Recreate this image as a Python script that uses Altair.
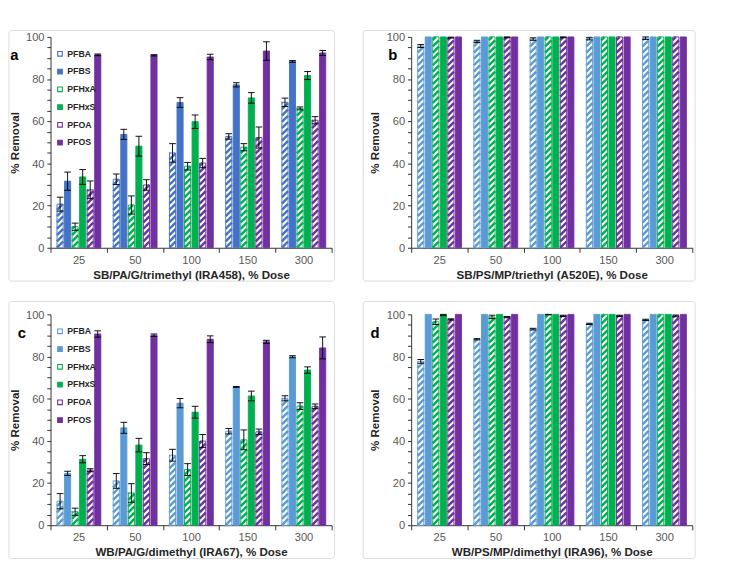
import altair as alt
import pandas as pd

# ---------------- data ----------------
series = ["PFBA", "PFBS", "PFHxA", "PFHxS", "PFOA", "PFOS"]
hatched = ["PFBA", "PFHxA", "PFOA"]
doses = ["25", "50", "100", "150", "300"]

# panel a: SB/PA/G/trimethyl (IRA458)
a_val = {
    "PFBA": [20.7, 32.5, 45.0, 52.8, 69.0],
    "PFBS": [31.6, 53.8, 68.9, 77.3, 88.4],
    "PFHxA": [10.0, 20.3, 38.7, 47.7, 66.1],
    "PFHxS": [33.6, 48.2, 59.8, 71.1, 81.7],
    "PFOA": [27.5, 29.8, 40.2, 52.3, 60.5],
    "PFOS": [91.5, 91.3, 90.5, 93.3, 92.4],
}
a_err = {
    "PFBA": [3.3, 2.5, 4.4, 1.3, 2.0],
    "PFBS": [4.3, 2.4, 2.3, 1.0, 0.4],
    "PFHxA": [1.7, 4.3, 1.8, 1.7, 0.7],
    "PFHxS": [3.5, 4.7, 3.2, 2.5, 1.9],
    "PFOA": [4.2, 2.5, 2.2, 5.0, 1.7],
    "PFOS": [0.4, 0.3, 1.3, 4.4, 1.2],
}
# panel b: SB/PS/MP/triethyl (A520E)
b_val = {
    "PFBA": [95.7, 97.9, 99.0, 99.2, 99.4],
    "PFBS": [100, 100, 100, 100, 100],
    "PFHxA": [100, 100, 100, 100, 100],
    "PFHxS": [100, 100, 100, 100, 100],
    "PFOA": [99.7, 99.8, 99.8, 100, 100],
    "PFOS": [100, 100, 100, 100, 100],
}
b_err = {
    "PFBA": [0.7, 0.5, 0.6, 0.6, 0.6],
    "PFBS": [0, 0, 0, 0, 0],
    "PFHxA": [0, 0, 0, 0, 0],
    "PFHxS": [0, 0, 0, 0, 0],
    "PFOA": [0.2, 0.2, 0.2, 0, 0],
    "PFOS": [0, 0, 0, 0, 0],
}
# panel c: WB/PA/G/dimethyl (IRA67)
c_val = {
    "PFBA": [11.4, 21.0, 33.2, 44.6, 60.2],
    "PFBS": [24.6, 46.2, 57.9, 65.6, 79.9],
    "PFHxA": [6.4, 15.3, 26.4, 40.5, 56.5],
    "PFHxS": [31.3, 38.0, 53.6, 61.3, 73.6],
    "PFOA": [26.1, 31.6, 39.9, 44.3, 56.4],
    "PFOS": [90.7, 90.1, 88.2, 87.0, 84.1],
}
c_err = {
    "PFBA": [3.6, 3.5, 2.8, 1.3, 1.2],
    "PFBS": [1.0, 2.6, 2.2, 0.2, 0.5],
    "PFHxA": [1.7, 4.4, 2.8, 4.7, 1.6],
    "PFHxS": [1.7, 3.2, 2.8, 2.3, 1.5],
    "PFOA": [0.7, 2.8, 3.1, 1.3, 1.1],
    "PFOS": [1.5, 0.6, 1.6, 0.7, 5.2],
}
# panel d: WB/PS/MP/dimethyl (IRA96)
d_val = {
    "PFBA": [77.7, 88.2, 93.0, 95.5, 97.4],
    "PFBS": [100, 100, 100, 100, 100],
    "PFHxA": [96.5, 98.8, 99.9, 100, 100],
    "PFHxS": [99.7, 100, 100, 100, 100],
    "PFOA": [97.6, 98.7, 99.3, 99.3, 99.3],
    "PFOS": [100, 100, 100, 100, 100],
}
d_err = {
    "PFBA": [0.9, 0.3, 0.4, 0.3, 0.3],
    "PFBS": [0, 0, 0, 0, 0],
    "PFHxA": [1.3, 0.8, 0.1, 0, 0],
    "PFHxS": [0.3, 0, 0, 0, 0],
    "PFOA": [0.3, 0.3, 0.3, 0.3, 0.4],
    "PFOS": [0, 0, 0, 0, 0],
}

# ---------------- style / layout ----------------
FONT = "Liberation Sans"
DARK_BLUE = "#4472C4"
LIGHT_BLUE = "#5B9BD5"
GREEN = "#00B050"
PURPLE = "#7030A0"
AXIS_COLOR = "#262626"
LABEL_COLOR = "#595959"
TITLE_COLOR = "#262626"

W, H = 304, 228
PX_X = W / 5.0            # pixels per category
PX_Y = H / 100.0          # pixels per % unit
BW = 6.6 / PX_X           # bar width (x units)
STEP = 8.15 / PX_X        # bar step
OFF = 7.0 / PX_X          # offset of first bar in its group
CAP = 3.6 / PX_X          # half width of error caps
DY = 6.6 / PX_Y           # rise of a 45 degree stripe across a bar (y units)
PER = 6.8 / PX_Y          # vertical period of stripes (y units)

one = pd.DataFrame({"k": [0]})


def make_df(vals, errs):
    rows = []
    for di, d in enumerate(doses):
        for si, s in enumerate(series):
            rows.append({"dose": d, "di": di, "series": s, "si": si,
                         "value": vals[s][di], "err": errs[s][di]})
    return pd.DataFrame(rows)


label_list = "[" + ",".join("'" + d + "'" for d in doses) + ",'']"
YTITLE = "% Removal"


def panel(letter, xtitle, vals, errs, blue, show_legend, frame_left, frame_top, letter_xy):
    df = make_df(vals, errs)
    colors = [blue, blue, GREEN, GREEN, PURPLE, PURPLE]
    fills = ["white" if s in hatched else c for s, c in zip(series, colors)]

    if show_legend:
        legend = alt.Legend(title=None, orient="none", legendX=5.5, legendY=13.5,
                            symbolType="square", symbolSize=25, symbolStrokeWidth=1.2,
                            labelFontSize=9.5, labelFontWeight="bold", labelColor="#262626",
                            labelOffset=3, rowPadding=8.2, padding=0, labelFont=FONT)
    else:
        legend = None

    xscale = alt.Scale(domain=[0, 5], nice=False, zero=False, padding=0)
    yscale = alt.Scale(domain=[0, 100], nice=False, zero=False, padding=0)

    xaxis = alt.Axis(values=[0, 1, 2, 3, 4, 5], tickSize=5, grid=False,
                     labelExpr=label_list + "[round(datum.value)]",
                     labelOffset=PX_X / 2, labelFlush=False, labelOverlap=False,
                     labelFontSize=12, labelColor=LABEL_COLOR, labelPadding=3,
                     domainColor=AXIS_COLOR, tickColor=AXIS_COLOR,
                     titleFontSize=12.5, titleFontWeight="bold", titleColor=TITLE_COLOR,
                     titlePadding=4, labelFont=FONT, titleFont=FONT)
    yaxis = alt.Axis(values=list(range(0, 101, 5)), tickSize=4, grid=False,
                     labelExpr="datum.value % 20 == 0 ? datum.label : ''",
                     labelOverlap=False, labelFontSize=12, labelColor=LABEL_COLOR,
                     labelPadding=3, domainColor=AXIS_COLOR, tickColor=AXIS_COLOR,
                     titleFontSize=12.5, titleFontWeight="bold", titleColor=TITLE_COLOR,
                     titlePadding=5, labelFont=FONT, titleFont=FONT)

    def X(f):
        return alt.X(f, type="quantitative", scale=xscale, axis=xaxis, title=xtitle)

    def Y(f):
        return alt.Y(f, type="quantitative", scale=yscale, axis=yaxis, title=YTITLE, stack=None)

    stroke_enc = alt.Stroke("series:N", scale=alt.Scale(domain=series, range=colors), legend=legend)
    fill_enc = alt.Fill("series:N", scale=alt.Scale(domain=series, range=fills), legend=legend)

    base = alt.Chart(df).transform_calculate(
        xl=f"datum.di + {OFF} + datum.si * {STEP}"
    ).transform_calculate(
        xr=f"datum.xl + {BW}",
        xc=f"datum.xl + {BW / 2}",
        cl=f"datum.xl + {BW / 2 - CAP}",
        cr=f"datum.xl + {BW / 2 + CAP}",
    )

    frame = alt.Chart(one).mark_rect(fillOpacity=0, stroke="#D9D9D9", strokeWidth=1,
                                     cornerRadius=3, x2Offset=3, y2Offset=36).encode(
        x=alt.value(frame_left), x2=alt.value("width"),
        y=alt.value(frame_top), y2=alt.value("height"))

    bars = base.mark_bar(strokeWidth=1).encode(
        x=X("xl"), x2="xr:Q",
        y=Y("value"), y2=alt.datum(0),
        fill=fill_enc, stroke=stroke_enc,
    )

    stripes = base.transform_filter(
        alt.FieldOneOfPredicate(field="series", oneOf=hatched)
    ).transform_calculate(
        y0=f"sequence({-DY}, datum.value, {PER})"
    ).transform_flatten(["y0"]).transform_calculate(
        t0=f"max(0, -datum.y0 / {DY})",
        t1=f"min(1, (datum.value - datum.y0) / {DY})",
    ).transform_filter("datum.t1 > datum.t0").transform_calculate(
        sx="datum.xl + datum.t0 * (datum.xr - datum.xl)",
        ex="datum.xl + datum.t1 * (datum.xr - datum.xl)",
        sy=f"datum.y0 + datum.t0 * {DY}",
        ey=f"datum.y0 + datum.t1 * {DY}",
    ).mark_rule(strokeWidth=2.6).encode(
        x=X("sx"), x2="ex:Q",
        y=Y("sy"), y2="ey:Q",
        stroke=stroke_enc,
    )

    errb = base.transform_filter("datum.err > 0").transform_calculate(
        lo="datum.value - datum.err", hi="datum.value + datum.err")
    err_v = errb.mark_rule(color="black", strokeWidth=1).encode(
        x=X("xc"), y=Y("lo"), y2="hi:Q")
    err_hi = errb.mark_rule(color="black", strokeWidth=1).encode(
        x=X("cl"), x2="cr:Q", y=Y("hi"))
    err_lo = errb.mark_rule(color="black", strokeWidth=1).encode(
        x=X("cl"), x2="cr:Q", y=Y("lo"))

    tag = alt.Chart(one).mark_text(text=letter, fontSize=16, fontWeight="bold",
                                   color="black", font=FONT, align="center",
                                   baseline="middle").encode(
        x=alt.value(letter_xy[0]), y=alt.value(letter_xy[1]))

    return alt.layer(frame, bars, stripes, err_v, err_hi, err_lo, tag).properties(
        width=W, height=H)


pa = panel("a", "SB/PA/G/trimethyl (IRA458), % Dose", a_val, a_err, DARK_BLUE, True, -45, -7, (-39, 20))
pb = panel("b", "SB/PS/MP/triethyl (A520E), % Dose", b_val, b_err, LIGHT_BLUE, False, -52, -7, (-20, 20))
pc = panel("c", "WB/PA/G/dimethyl (IRA67), % Dose", c_val, c_err, LIGHT_BLUE, True, -45, -14, (-31, 20))
pdl = panel("d", "WB/PS/MP/dimethyl (IRA96), % Dose", d_val, d_err, LIGHT_BLUE, False, -52, -14, (-39, 21))

row1 = alt.hconcat(pa, pb, spacing=2).resolve_scale(fill="independent", stroke="independent")
row2 = alt.hconcat(pc, pdl, spacing=2).resolve_scale(fill="independent", stroke="independent")

chart = alt.vconcat(row1, row2, spacing=20).resolve_scale(
    fill="independent", stroke="independent"
).properties(padding=0).configure(font=FONT).configure_view(stroke=None)

chart.save("out.html", embed_options={"renderer": "svg", "actions": False})
